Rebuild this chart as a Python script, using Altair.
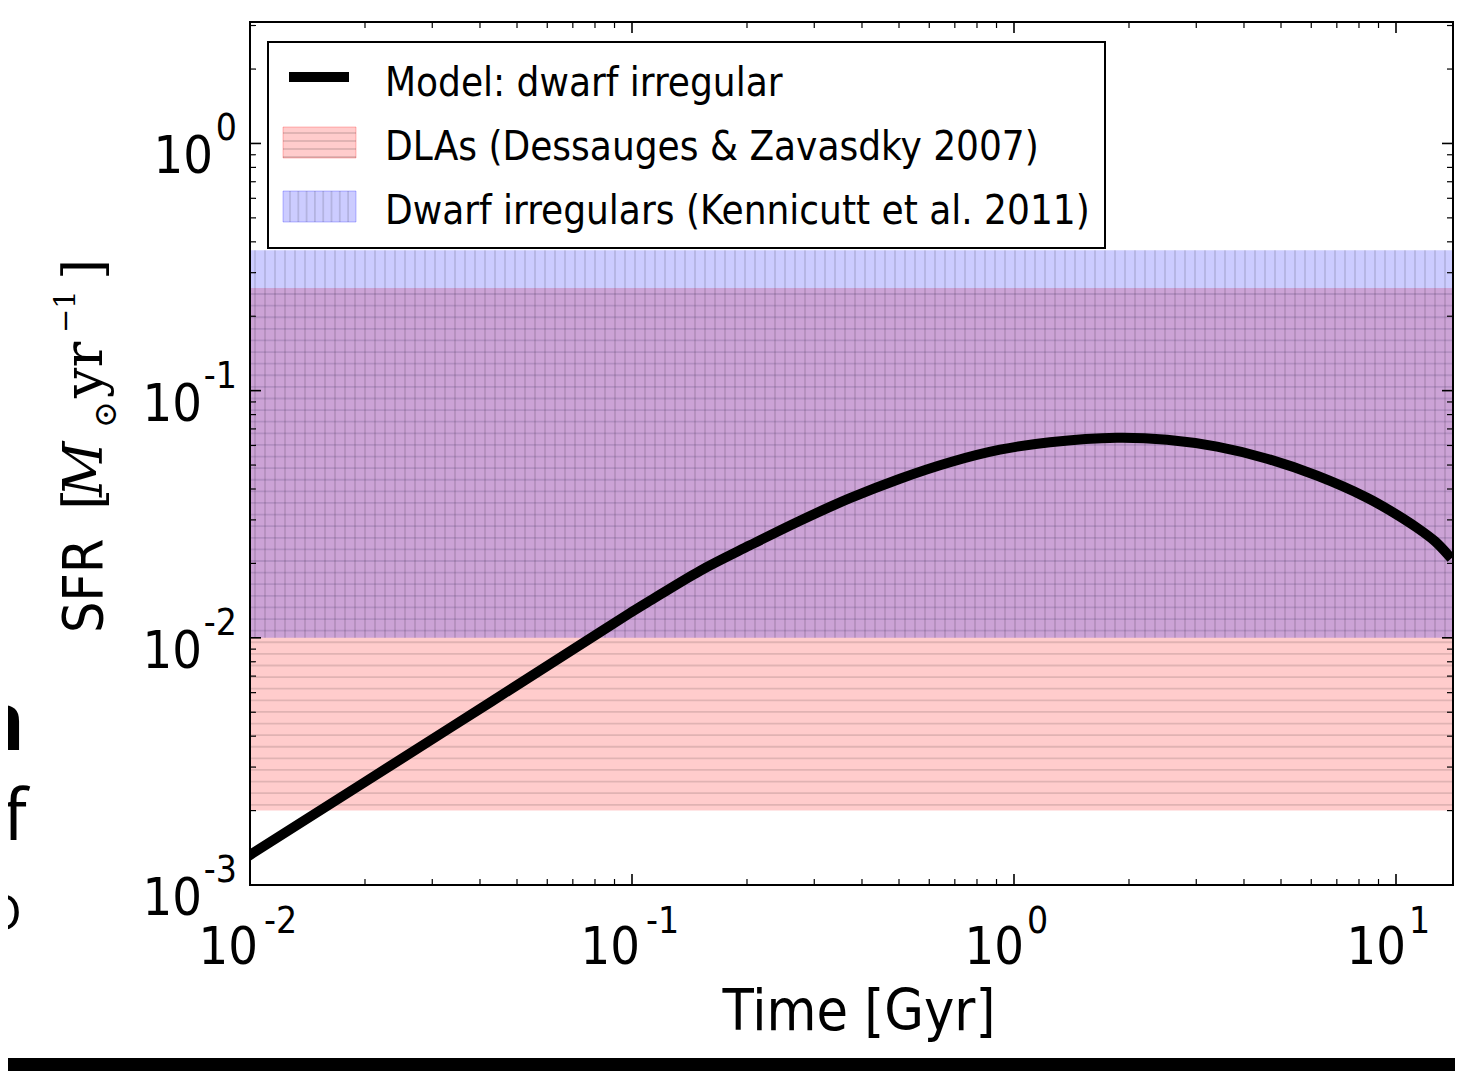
import altair as alt
import numpy as np
import pandas as pd

# ---------------- data ----------------
time_gyr = [0.01, 0.0334, 0.0824, 0.1, 0.1114, 0.1507, 0.2036, 0.2753, 0.3721, 0.503,
            0.680, 0.919, 1.242, 1.86, 2.515, 3.40, 4.596, 6.212, 8.397, 9.76, 11.35, 12.65, 13.68]
sfr_model = [0.001323, 0.004321, 0.010527, 0.012744, 0.014117, 0.018675, 0.023674, 0.029765,
             0.036712, 0.044028, 0.05133, 0.05769, 0.06187, 0.06451, 0.06331, 0.05934, 0.05305,
             0.04528, 0.03688, 0.03236, 0.02788, 0.02458, 0.02168]

dla_range = [0.002, 0.26]      # DLAs (Dessauges & Zavasdky 2007)
dirr_range = [0.01, 0.37]      # Dwarf irregulars (Kennicutt et al. 2011)
x_domain = [0.01, 14.1]
y_domain = [0.001, 3.1]

legend_labels = ["Model: dwarf irregular",
                 "DLAs (Dessauges & Zavasdky 2007)",
                 "Dwarf irregulars (Kennicutt et al. 2011)"]
x_tick_values = [0.01, 0.1, 1, 10]
x_tick_exps = ["-2", "-1", "0", "1"]
y_tick_values = [0.001, 0.01, 0.1, 1]
y_tick_exps = ["-3", "-2", "-1", "0"]
x_title = "Time [Gyr]"
y_title_sans = "SFR"
y_title_parts = ["[", "M", "\u2299", "yr", "\u22121", "]"]
slide_fragments = ["n", "rf", "O"]

# ---------------- layout / style ----------------
W, H = 1203, 863
SANS = "DejaVu Sans Condensed, DejaVu Sans"
SERIF = "DejaVu Serif"
xs = alt.Scale(type="log", domain=x_domain, nice=False, zero=False)
ys = alt.Scale(type="log", domain=y_domain, nice=False, zero=False)


def X(f):
    return alt.X(f, type="quantitative", scale=xs, axis=None)


def Y(f):
    return alt.Y(f, type="quantitative", scale=ys, axis=None)


one = pd.DataFrame({"a": [0]})
layers = []

# bands
band_df = pd.DataFrame({"x1": [x_domain[0], x_domain[0]], "x2": [x_domain[1], x_domain[1]],
                        "y1": [dla_range[0], dirr_range[0]], "y2": [dla_range[1], dirr_range[1]],
                        "band": ["dla", "dirr"]})
layers.append(alt.Chart(band_df).transform_filter("datum.band == 'dla'")
              .mark_rect(color="#ff0000", opacity=0.2)
              .encode(x=X("x1"), x2="x2", y=Y("y1"), y2="y2"))
# horizontal hatch of the DLA band
h_step = 11.6 / 247.0
h_lines = 10 ** np.arange(np.log10(dla_range[0]) + h_step * 0.5, np.log10(dla_range[1]), h_step)
layers.append(alt.Chart(pd.DataFrame({"s": h_lines}))
              .mark_rule(color="black", opacity=0.12, strokeWidth=1.8)
              .encode(y=Y("s")))
layers.append(alt.Chart(band_df).transform_filter("datum.band == 'dirr'")
              .mark_rect(color="#0000ff", opacity=0.2)
              .encode(x=X("x1"), x2="x2", y=Y("y1"), y2="y2"))
# vertical hatch of the dwarf-irregular band
v_step = 10.0 / 382.0
v_lines = 10 ** np.arange(np.log10(x_domain[0]) + v_step * 0.5, np.log10(x_domain[1]), v_step)
layers.append(alt.Chart(pd.DataFrame({"t": v_lines, "lo": dirr_range[0], "hi": dirr_range[1]}))
              .mark_rule(color="black", opacity=0.12, strokeWidth=1.8)
              .encode(x=X("t"), y=Y("lo"), y2="hi"))

# model line
layers.append(alt.Chart(pd.DataFrame({"t": time_gyr, "s": sfr_model}))
              .mark_line(color="black", strokeWidth=10, interpolate="catmull-rom",
                         strokeCap="square", clip=True)
              .encode(x=X("t"), y=Y("s")))

# ticks (inside, on all four sides)
x_minor = [m * 10.0 ** k for k in range(-2, 2) for m in range(2, 10)
           if x_domain[0] < m * 10.0 ** k < x_domain[1]]
y_minor = [m * 10.0 ** k for k in range(-3, 1) for m in range(2, 10)
           if y_domain[0] < m * 10.0 ** k < y_domain[1]]
for vals, ln, sw in [(x_tick_values, 11, 1.6), (x_minor, 6, 1.2)]:
    d = pd.DataFrame({"t": vals})
    layers.append(alt.Chart(d).mark_rule(color="black", strokeWidth=sw)
                  .encode(x=X("t"), y=alt.value(H), y2=alt.value(H - ln)))
    layers.append(alt.Chart(d).mark_rule(color="black", strokeWidth=sw)
                  .encode(x=X("t"), y=alt.value(0), y2=alt.value(ln)))
for vals, ln, sw in [(y_tick_values, 11, 1.6), (y_minor, 6, 1.2)]:
    d = pd.DataFrame({"s": vals})
    layers.append(alt.Chart(d).mark_rule(color="black", strokeWidth=sw)
                  .encode(y=Y("s"), x=alt.value(0), x2=alt.value(ln)))
    layers.append(alt.Chart(d).mark_rule(color="black", strokeWidth=sw)
                  .encode(y=Y("s"), x=alt.value(W - ln), x2=alt.value(W)))

# frame
layers.append(alt.Chart(one).mark_rect(fillOpacity=0, stroke="black", strokeWidth=2)
              .encode(x=alt.value(0), x2=alt.value(W), y=alt.value(0), y2=alt.value(H)))

# tick labels (10 with superscript exponent)
xl = pd.DataFrame({"t": x_tick_values, "e": x_tick_exps})
for cond, dxb, dxe in [("datum.t < 1", 8, 14), ("datum.t >= 1", 10, 13)]:
    layers.append(alt.Chart(xl).transform_filter(cond)
                  .mark_text(align="right", baseline="alphabetic", font=SANS, fontSize=52, dx=dxb)
                  .encode(x=X("t"), y=alt.value(H + 79), text=alt.value("10")))
    layers.append(alt.Chart(xl).transform_filter(cond)
                  .mark_text(align="left", baseline="alphabetic", font=SANS, fontSize=37, dx=dxe)
                  .encode(x=X("t"), y=alt.value(H + 48), text="e:N"))
yl = pd.DataFrame({"s": y_tick_values, "e": y_tick_exps})
for cond, xb in [("datum.s < 1", -48), ("datum.s >= 1", -37)]:
    layers.append(alt.Chart(yl).transform_filter(cond)
                  .mark_text(align="right", baseline="alphabetic", font=SANS, fontSize=52, dy=30)
                  .encode(y=Y("s"), x=alt.value(xb), text=alt.value("10")))
    layers.append(alt.Chart(yl).transform_filter(cond)
                  .mark_text(align="right", baseline="alphabetic", font=SANS, fontSize=37, dy=-3)
                  .encode(y=Y("s"), x=alt.value(-13), text="e:N"))

# axis titles
layers.append(alt.Chart(one).mark_text(align="center", baseline="alphabetic", font=SANS, fontSize=57)
              .encode(x=alt.value(609), y=alt.value(1008), text=alt.value(x_title)))
layers.append(alt.Chart(one).mark_text(align="left", baseline="alphabetic", font=SANS, fontSize=55, angle=270)
              .encode(x=alt.value(-148), y=alt.value(611), text=alt.value(y_title_sans)))
# math part  [M_sun yr^-1]
part_pos = [(-148, 488, 54, "normal"), (-148, 475, 54, "italic"), (-134, 406, 32, "normal"),
            (-148, 376, 54, "normal"), (-175, 311, 29, "normal"), (-148, 258, 54, "normal")]
for txt, (px, py, fs, st) in zip(y_title_parts, part_pos):
    layers.append(alt.Chart(one).mark_text(align="left", baseline="alphabetic", font=SERIF,
                                           fontSize=fs, fontStyle=st, angle=270)
                  .encode(x=alt.value(px), y=alt.value(py), text=alt.value(txt)))

# legend
layers.append(alt.Chart(one).mark_rect(fill="white", stroke="black", strokeWidth=2)
              .encode(x=alt.value(18), x2=alt.value(855), y=alt.value(20), y2=alt.value(226)))
layers.append(alt.Chart(one).mark_rule(color="black", strokeWidth=10)
              .encode(x=alt.value(39), x2=alt.value(99), y=alt.value(55)))
layers.append(alt.Chart(one).mark_rect(fill="#ff0000", fillOpacity=0.2, stroke="#ff0000", strokeOpacity=0.25)
              .encode(x=alt.value(33), x2=alt.value(106), y=alt.value(105), y2=alt.value(136)))
for py in np.arange(105 + 6, 136, 8):
    layers.append(alt.Chart(one).mark_rule(color="black", opacity=0.12, strokeWidth=1.8)
                  .encode(x=alt.value(33), x2=alt.value(106), y=alt.value(float(py))))
layers.append(alt.Chart(one).mark_rect(fill="#0000ff", fillOpacity=0.2, stroke="#0000ff", strokeOpacity=0.25)
              .encode(x=alt.value(33), x2=alt.value(106), y=alt.value(169), y2=alt.value(200)))
for px in np.arange(33 + 7, 106, 8.3):
    layers.append(alt.Chart(one).mark_rule(color="black", opacity=0.12, strokeWidth=1.8)
                  .encode(x=alt.value(float(px)), y=alt.value(169), y2=alt.value(200)))
for i, lab in enumerate(legend_labels):
    layers.append(alt.Chart(one).mark_text(align="left", baseline="alphabetic", font=SANS, fontSize=40)
                  .encode(x=alt.value(135), y=alt.value(74 + 64 * i), text=alt.value(lab)))

# cropped slide text at the far left and the dark strip at the bottom
frag_pos = [(-225, 728, 80, "bold"), (-223, 818, 72, "normal"), (-228, 908, 50, "normal")]
for txt, (px, py, fs, fw) in zip(slide_fragments, frag_pos):
    layers.append(alt.Chart(one).mark_text(align="right", baseline="alphabetic", font="Open Sans",
                                           fontSize=fs, fontWeight=fw)
                  .encode(x=alt.value(px), y=alt.value(py), text=alt.value(txt)))
layers.append(alt.Chart(one).mark_rect(color="black")
              .encode(x=alt.value(-242), x2=alt.value(W + 2), y=alt.value(1036), y2=alt.value(1049)))

chart = (alt.layer(*layers)
         .properties(width=W, height=H,
                     padding={"left": 242, "top": 14, "right": 2, "bottom": 186},
                     autosize=alt.AutoSizeParams(type="none"))
         .configure_view(stroke=None)
         .configure(background="white"))

chart.save("out.html", embed_options={"renderer": "svg", "actions": False})
